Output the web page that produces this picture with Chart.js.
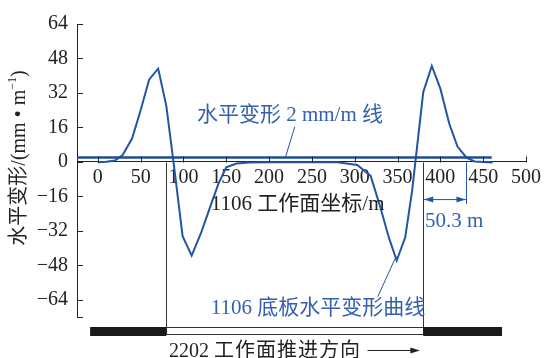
<!DOCTYPE html>
<html>
<head>
<meta charset="utf-8">
<script src="https://cdn.jsdelivr.net/npm/chart.js@4.4.0/dist/chart.umd.min.js"></script>
<style>
  body { margin: 0; background: #fff; }
</style>
</head>
<body>
<canvas id="chart" width="545" height="358"></canvas>
<script>
// 1106 底板水平变形曲线 (x: 工作面坐标 m, y: mm/m)
const curveX = [0, 10, 20, 29, 40, 50, 60, 70.5, 80, 89, 99, 109.6, 121, 131.5, 141, 150, 162, 176, 200, 250, 280,
  303, 318.6, 329.5, 340, 349, 359, 367, 380, 390, 400, 410.5, 420, 430.5, 440, 461];
const curveY = [-0.2, 0.1, 0.6, 3.2, 10.8, 24, 38.3, 43.3, 26, -2, -34.5, -43.5, -32.5, -20.5, -10, -2.5, -0.8, -0.3, -0.2, -0.2, -0.2,
  -1.4, -6.5, -20.5, -35.3, -45.8, -35, -13.5, 32.3, 44.5, 34, 17.6, 7.1, 2, 0.2, -0.3];
// 水平变形 2 mm/m 线
const limitX = [-25, 460];
const limitY = [2, 2];

const xTicks = [0, 50, 100, 150, 200, 250, 300, 350, 400, 450, 500];
const yTicks = [-64, -48, -32, -16, 0, 16, 32, 48, 64];

const faceEdges = [80, 380];   // 1106 工作面边界
const offsetDist = 50.3;       // 50.3 m

const BLUE = '#2255a6';
const TEXT_BLUE = '#3460ae';
const FONT = '"Liberation Serif", "Noto Sans CJK SC", serif';

function toPoints(xs, ys) {
  return xs.map((x, i) => ({ x: x, y: ys[i] }));
}

const decorations = {
  id: 'decorations',
  afterDraw(chart) {
    const ctx = chart.ctx;
    const xs = chart.scales.x;
    const ys = chart.scales.y;
    const area = chart.chartArea;
    const px = v => xs.getPixelForValue(v);
    const py = v => ys.getPixelForValue(v);
    const y0 = Math.round(py(0)) + 0.5;

    ctx.save();
    // inward ticks
    ctx.strokeStyle = '#222';
    ctx.lineWidth = 1;
    ctx.beginPath();
    xTicks.forEach(v => {
      const x = Math.round(px(v)) + 0.5;
      ctx.moveTo(x, y0);
      ctx.lineTo(x, y0 - 6);
    });
    yTicks.concat([ys.min]).forEach(v => {
      const y = Math.round(py(v)) + 0.5;
      ctx.moveTo(area.left, y);
      ctx.lineTo(area.left + 6, y);
    });
    ctx.stroke();

    // face boundaries and bottom strip
    const barTop = area.bottom + 10;
    const barH = 9;
    ctx.strokeStyle = '#333';
    ctx.beginPath();
    faceEdges.forEach(v => {
      const x = Math.round(px(v)) + 0.5;
      ctx.moveTo(x, y0);
      ctx.lineTo(x, barTop + barH - 1);
    });
    ctx.stroke();

    ctx.fillStyle = '#1a1a1a';
    ctx.fillRect(px(-9), barTop, px(faceEdges[0]) - px(-9), barH);
    ctx.fillRect(px(faceEdges[1]), barTop, px(472) - px(faceEdges[1]), barH);
    ctx.beginPath();
    ctx.moveTo(px(faceEdges[0]), barTop + 0.5);
    ctx.lineTo(px(faceEdges[1]), barTop + 0.5);
    ctx.moveTo(px(faceEdges[0]), barTop + barH - 1.5);
    ctx.lineTo(px(faceEdges[1]), barTop + barH - 1.5);
    ctx.stroke();

    // 50.3 m dimension
    const xa = px(faceEdges[1]);
    const xb = Math.round(px(faceEdges[1] + offsetDist)) + 0.5;
    const yd = py(-17.5);
    ctx.strokeStyle = BLUE;
    ctx.fillStyle = BLUE;
    ctx.beginPath();
    ctx.moveTo(xb, y0);
    ctx.lineTo(xb, py(-19.5));
    ctx.moveTo(xa, yd);
    ctx.lineTo(xb, yd);
    ctx.stroke();
    ctx.beginPath();
    ctx.moveTo(xa + 1, yd); ctx.lineTo(xa + 10, yd - 3); ctx.lineTo(xa + 10, yd + 3); ctx.closePath();
    ctx.moveTo(xb - 1, yd); ctx.lineTo(xb - 10, yd - 3); ctx.lineTo(xb - 10, yd + 3); ctx.closePath();
    ctx.fill();

    // leaders
    ctx.lineWidth = 1;
    ctx.beginPath();
    ctx.moveTo(px(230), py(16.3));
    ctx.lineTo(px(219), py(2));
    ctx.moveTo(px(348.4), py(-43.8));
    ctx.lineTo(px(327), py(-62.5));
    ctx.stroke();

    // texts
    ctx.font = '21px ' + FONT;
    ctx.textBaseline = 'middle';
    ctx.textAlign = 'left';
    ctx.fillStyle = TEXT_BLUE;
    ctx.fillText('水平变形 2 mm/m 线', px(115.7), py(21.5));
    ctx.fillText('1106 底板水平变形曲线', px(132), py(-68));
    ctx.fillText('50.3 m', px(382), py(-27.5));
    ctx.fillStyle = '#222';
    ctx.fillText('1106 工作面坐标/m', px(132), py(-19.6));

    // bottom label with arrow
    const yb = area.bottom + 35;
    ctx.font = '20px ' + FONT;
    ctx.fillText('2202', px(83), yb);
    let x = px(83) + ctx.measureText('2202 ').width;
    '工作面推进方向'.split('').forEach(ch => {
      ctx.fillText(ch, x, yb);
      x += 21;
    });
    ctx.strokeStyle = '#222';
    ctx.fillStyle = '#222';
    ctx.beginPath();
    ctx.moveTo(px(315), yb - 1.5);
    ctx.lineTo(px(370), yb - 1.5);
    ctx.stroke();
    ctx.beginPath();
    ctx.moveTo(px(376), yb - 1.5);
    ctx.lineTo(px(365), yb - 4.5);
    ctx.lineTo(px(365), yb + 1.5);
    ctx.closePath();
    ctx.fill();

    // y axis title
    ctx.translate(20, 158);
    ctx.rotate(-Math.PI / 2);
    ctx.fillStyle = '#222';
    ctx.font = '20px ' + FONT;
    const main = '水平变形/(mm • m';
    const sup = '−1';
    const close = ')';
    const wMain = ctx.measureText(main).width;
    ctx.font = '12px ' + FONT;
    const wSup = ctx.measureText(sup).width;
    ctx.font = '20px ' + FONT;
    const wClose = ctx.measureText(close).width;
    let tx = -(wMain + wSup + wClose) / 2;
    ctx.fillText(main, tx, 0);
    tx += wMain;
    ctx.font = '12px ' + FONT;
    ctx.fillText(sup, tx, -7);
    tx += wSup;
    ctx.font = '20px ' + FONT;
    ctx.fillText(close, tx, 0);
    ctx.restore();
  }
};

new Chart(document.getElementById('chart'), {
  type: 'line',
  data: {
    datasets: [
      {
        label: '水平变形 2 mm/m 线',
        data: toPoints(limitX, limitY),
        borderColor: '#1f4c98',
        borderWidth: 2.5,
        pointRadius: 0,
        tension: 0
      },
      {
        label: '1106 底板水平变形曲线',
        data: toPoints(curveX, curveY),
        borderColor: BLUE,
        borderWidth: 2,
        pointRadius: 0,
        tension: 0
      }
    ]
  },
  options: {
    responsive: false,
    animation: false,
    layout: { padding: { left: 0, right: 15, top: 24, bottom: 41 } },
    plugins: { legend: { display: false }, tooltip: { enabled: false } },
    scales: {
      x: {
        type: 'linear',
        position: { y: 0 },
        min: -24.3,
        max: 500,
        afterBuildTicks: scale => { scale.ticks = xTicks.map(v => ({ value: v })); },
        ticks: { color: '#222', font: { family: FONT, size: 20 }, padding: 4, maxRotation: 0 },
        grid: { drawOnChartArea: false, drawTicks: false },
        border: { color: '#222', width: 1 }
      },
      y: {
        type: 'linear',
        min: -72,
        max: 64,
        afterFit: scale => { scale.width = 77; },
        afterBuildTicks: scale => { scale.ticks = yTicks.map(v => ({ value: v })); },
        ticks: {
          color: '#222',
          font: { family: FONT, size: 20 },
          padding: 9,
          callback: v => String(v).replace('-', '−')
        },
        grid: { drawOnChartArea: false, drawTicks: false },
        border: { color: '#222', width: 1 }
      }
    }
  },
  plugins: [decorations]
});
</script>
</body>
</html>
